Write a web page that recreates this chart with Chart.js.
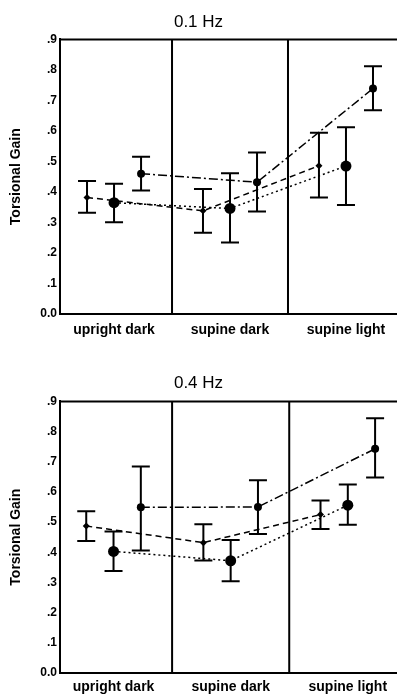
<!DOCTYPE html>
<html>
<head>
<meta charset="utf-8">
<script src="https://cdn.jsdelivr.net/npm/chart.js@4.4.0/dist/chart.umd.min.js"></script>
<style>
  html, body { margin: 0; padding: 0; background: #fff; }
  canvas { display: block; }
</style>
</head>
<body>
<canvas id="chart01" width="397" height="340"></canvas>
<canvas id="chart04" width="397" height="354"></canvas>
<script>
// categories
const conditions = ['upright dark', 'supine dark', 'supine light'];

// 0.1 Hz panel - three series, mean gain with error limits
const gain01A = [0.382, 0.338, 0.486];
const low01A  = [0.332, 0.266, 0.382];
const high01A = [0.436, 0.410, 0.594];
const gain01B = [0.365, 0.346, 0.485];
const low01B  = [0.301, 0.234, 0.357];
const high01B = [0.427, 0.461, 0.612];
const gain01C = [0.460, 0.432, 0.739];
const low01C  = [0.405, 0.336, 0.668];
const high01C = [0.515, 0.529, 0.812];

// 0.4 Hz panel
const gain04A = [0.487, 0.432, 0.525];
const low04A  = [0.437, 0.373, 0.477];
const high04A = [0.536, 0.493, 0.572];
const gain04B = [0.403, 0.372, 0.556];
const low04B  = [0.338, 0.304, 0.491];
const high04B = [0.469, 0.441, 0.625];
const gain04C = [0.549, 0.550, 0.743];
const low04C  = [0.406, 0.461, 0.648];
const high04C = [0.684, 0.639, 0.844];

const FONT = "'Liberation Sans', Arial, Helvetica, sans-serif";

// draws condition dividers, top frame line and the error bars
const panelDecor = {
    id: 'panelDecor',
    beforeDatasetsDraw(chart) {
        const { ctx, chartArea, scales: { x } } = chart;
        ctx.save();
        ctx.strokeStyle = '#000';
        ctx.lineWidth = 2;
        ctx.beginPath();
        [1, 2].forEach(v => {
            const px = x.getPixelForValue(v);
            ctx.moveTo(px, chartArea.top);
            ctx.lineTo(px, chartArea.bottom);
        });
        ctx.moveTo(chartArea.left, chartArea.top);
        ctx.lineTo(chartArea.right, chartArea.top);
        ctx.stroke();
        ctx.restore();
    },
    afterDatasetsDraw(chart) {
        const { ctx, scales: { x, y } } = chart;
        ctx.save();
        ctx.strokeStyle = '#000';
        ctx.lineWidth = 2;
        ctx.setLineDash([]);
        chart.data.datasets.forEach(ds => {
            ds.data.forEach((pt, i) => {
                const px = x.getPixelForValue(pt.x);
                const lo = y.getPixelForValue(ds.errLow[i]);
                const hi = y.getPixelForValue(ds.errHigh[i]);
                ctx.beginPath();
                ctx.moveTo(px, lo); ctx.lineTo(px, hi);
                ctx.moveTo(px - 9, lo); ctx.lineTo(px + 9, lo);
                ctx.moveTo(px - 9, hi); ctx.lineTo(px + 9, hi);
                ctx.stroke();
            });
        });
        ctx.restore();
    }
};

const seriesStyle = [
    { dash: [6, 4], pointStyle: 'rectRot', radius: 3.5, shift: -0.233 },
    { dash: [2, 3], pointStyle: 'circle', radius: 5.5, shift: 0 },
    { dash: [9, 3, 2, 3], pointStyle: 'circle', radius: 4, shift: 0.233 }
];

function buildDatasets(means, lows, highs) {
    return means.map((vals, s) => ({
        data: vals.map((v, i) => ({ x: i + 0.5 + seriesStyle[s].shift, y: v })),
        errLow: lows[s],
        errHigh: highs[s],
        showLine: true,
        borderColor: '#000',
        backgroundColor: '#000',
        borderWidth: 1.5,
        borderDash: seriesStyle[s].dash,
        pointStyle: seriesStyle[s].pointStyle,
        pointRadius: seriesStyle[s].radius,
        pointBorderWidth: 0
    }));
}

function makePanel(id, title, datasets, xMin, xMax, titlePad, xAxisHeight, labelPad) {
    return new Chart(document.getElementById(id), {
        type: 'scatter',
        data: { datasets: datasets },
        options: {
            responsive: false,
            animation: false,
            layout: { autoPadding: false, padding: { left: 0, right: 0, top: 0, bottom: 0 } },
            plugins: {
                legend: { display: false },
                tooltip: { enabled: false },
                title: {
                    display: true,
                    text: title,
                    color: '#000',
                    font: { family: FONT, size: 17, weight: 'normal' },
                    padding: titlePad
                }
            },
            scales: {
                x: {
                    type: 'linear',
                    min: xMin,
                    max: xMax,
                    afterBuildTicks: s => { s.ticks = conditions.map((c, i) => ({ value: i + 0.5 })); },
                    afterFit: s => {
                        s.height = xAxisHeight;
                        s.paddingLeft = 0;
                        s.paddingRight = 0;
                    },
                    grid: { display: false, drawTicks: false },
                    border: { display: true, color: '#000', width: 2 },
                    ticks: {
                        color: '#000',
                        padding: labelPad,
                        maxRotation: 0,
                        font: { family: FONT, size: 14, weight: 'bold' },
                        callback: v => conditions[Math.round(v - 0.5)]
                    }
                },
                y: {
                    min: 0,
                    max: 0.9,
                    afterFit: s => { s.width = 60; },
                    grid: { display: false, drawTicks: false },
                    border: { display: true, color: '#000', width: 2 },
                    ticks: {
                        stepSize: 0.1,
                        color: '#000',
                        padding: 3,
                        font: { family: FONT, size: 12, weight: 'bold' },
                        callback: v => {
                            const n = Math.round(v * 10);
                            return n === 0 ? '0.0' : '.' + n;
                        }
                    },
                    title: {
                        display: true,
                        text: 'Torsional Gain',
                        color: '#000',
                        font: { family: FONT, size: 14, weight: 'bold' },
                        padding: { top: 8, bottom: 0 }
                    }
                }
            }
        },
        plugins: [panelDecor]
    });
}

makePanel('chart01', '0.1 Hz',
    buildDatasets([gain01A, gain01B, gain01C], [low01A, low01B, low01C], [high01A, high01B, high01C]),
    0.034, 2.94, { top: 12, bottom: 7 }, 26, 8);

makePanel('chart04', '0.4 Hz',
    buildDatasets([gain04A, gain04B, gain04C], [low04A, low04B, low04C], [high04A, high04B, high04C]),
    0.043, 2.92, { top: 33, bottom: 8 }, 21, 6);
</script>
</body>
</html>
